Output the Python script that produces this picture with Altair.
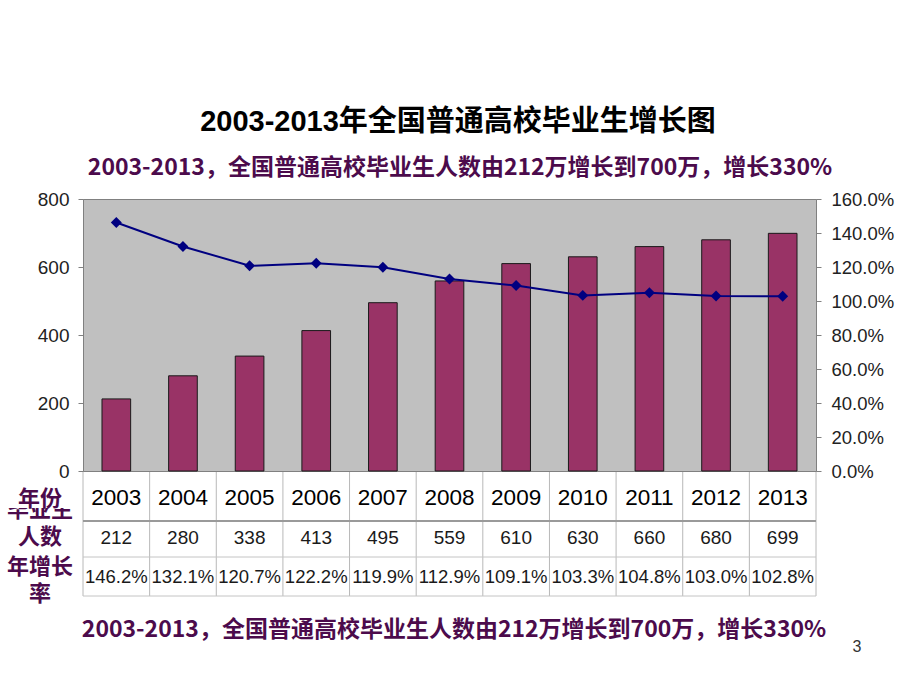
import altair as alt
import pandas as pd

# ---------------- data ----------------
years = ["2003", "2004", "2005", "2006", "2007", "2008", "2009", "2010", "2011", "2012", "2013"]
graduates = [212, 280, 338, 413, 495, 559, 610, 630, 660, 680, 699]
growth = [146.2, 132.1, 120.7, 122.2, 119.9, 112.9, 109.1, 103.3, 104.8, 103.0, 102.8]
left_ticks = [0, 200, 400, 600, 800]
right_ticks = [0, 20, 40, 60, 80, 100, 120, 140, 160]

TITLE = "2003-2013年全国普通高校毕业生增长图"
SUBTITLE = "2003-2013，全国普通高校毕业生人数由212万增长到700万，增长330%"
FOOTER = "2003-2013，全国普通高校毕业生人数由212万增长到700万，增长330%"
ROW_YEAR = "年份"
ROW_HIDDEN = "毕业生"
ROW_COUNT = "人数"
ROW_RATE_1 = "年增长"
ROW_RATE_2 = "率"
PAGE_NO = "3"

df = pd.DataFrame({
    "year": years,
    "grads": graduates,
    "rate": growth,
    "grad_txt": [str(v) for v in graduates],
    "rate_txt": [f"{v:.1f}%" for v in growth],
})

# ---------------- style ----------------
SANS = "Liberation Sans, Arial, sans-serif"
CJK = "Noto Sans CJK SC"
PURPLE = "#4c0b4c"
W, H = 733, 272
LEFT, TOP = 83, 199


def py(page_y):
    return page_y - TOP


def px(page_x):
    return page_x - LEFT


x_enc = alt.X("year:O", scale=alt.Scale(paddingInner=0, paddingOuter=0), axis=None)

bars = alt.Chart(df).mark_bar(
    width=alt.RelativeBandSize(0.43), color="#993366", stroke="#1a1a1a", strokeWidth=1
).encode(
    x=x_enc,
    y=alt.Y(
        "grads:Q",
        scale=alt.Scale(domain=[0, 800], nice=False),
        axis=alt.Axis(
            orient="left", values=left_ticks, title=None, grid=False,
            labelFont=SANS, labelFontSize=19, labelColor="#222222",
            tickColor="#808080", tickSize=5, domainColor="#808080",
            labelPadding=9,
        ),
    ),
)

rate_y = alt.Y(
    "rate:Q",
    scale=alt.Scale(domain=[0, 160], nice=False),
    axis=alt.Axis(
        orient="right", values=right_ticks, title=None, grid=False,
        labelExpr="format(datum.value, '.1f') + '%'",
        labelFont=SANS, labelFontSize=18.5, labelColor="#222222",
        tickColor="#808080", tickSize=5, domainColor="#808080",
        labelPadding=10,
    ),
)

line = alt.Chart(df).mark_line(color="#000080", strokeWidth=2).encode(x=x_enc, y=rate_y)
points = alt.Chart(df).mark_point(
    shape="diamond", filled=True, size=120, color="#000080", opacity=1
).encode(x=x_enc, y=rate_y)
rate_layer = alt.layer(line, points)

main = alt.layer(bars, rate_layer).resolve_scale(y="independent")

# ---------------- table ----------------
T_TOP, T_R1, T_R2, T_BOT = py(472), py(521), py(557), py(596)

vlines = alt.Chart(df).mark_rule(color="#b8b8b8", strokeWidth=1).encode(
    x=alt.X("year:O", bandPosition=0, scale=alt.Scale(paddingInner=0, paddingOuter=0), axis=None),
    y=alt.value(T_TOP), y2=alt.value(T_BOT),
)
one = pd.DataFrame({"k": [0]})
vline_end = alt.Chart(one).mark_rule(color="#b8b8b8", strokeWidth=1).encode(
    x=alt.value(W), y=alt.value(T_TOP), y2=alt.value(T_BOT)
)
hline_r1 = alt.Chart(one).mark_rule(color="#9a9a9a", strokeWidth=2).encode(
    x=alt.value(0), x2=alt.value(W), y=alt.value(T_R1)
)
hline_r2 = alt.Chart(one).mark_rule(color="#c4c4c4", strokeWidth=1).encode(
    x=alt.value(0), x2=alt.value(W), y=alt.value(T_R2)
)
hline_bot = alt.Chart(one).mark_rule(color="#c4c4c4", strokeWidth=1).encode(
    x=alt.value(0), x2=alt.value(W), y=alt.value(T_BOT)
)

year_txt = alt.Chart(df).mark_text(
    font=SANS, fontSize=22.5, color="#000000", baseline="middle"
).encode(x=x_enc, y=alt.value(py(498)), text="year:N")
grad_txt = alt.Chart(df).mark_text(
    font=SANS, fontSize=19, color="#1a1a1a", baseline="middle"
).encode(x=x_enc, y=alt.value(py(538)), text="grad_txt:N")
rate_txt = alt.Chart(df).mark_text(
    font=SANS, fontSize=18.5, color="#1a1a1a", baseline="middle"
).encode(x=x_enc, y=alt.value(py(577)), text="rate_txt:N")


def label(text, page_x, page_y, size, color="#000000", weight="normal", font=CJK, align="center"):
    return alt.Chart(pd.DataFrame({"t": [text]})).mark_text(
        font=font, fontSize=size, color=color, fontWeight=weight,
        align=align, baseline="middle",
    ).encode(x=alt.value(px(page_x)), y=alt.value(py(page_y)), text="t:N")


hidden_lbl = label(ROW_HIDDEN, 40, 510, 22, PURPLE, "bold")
cover = alt.Chart(one).mark_rect(color="white").encode(
    x=alt.value(px(2)), x2=alt.value(px(79)), y=alt.value(py(484)), y2=alt.value(py(508))
)
year_lbl = label(ROW_YEAR, 40, 499, 22, PURPLE, "bold")
count_lbl = label(ROW_COUNT, 40, 537, 22, PURPLE, "bold")
rate_lbl1 = label(ROW_RATE_1, 40, 567, 22, PURPLE, "bold")
rate_lbl2 = label(ROW_RATE_2, 40, 594, 22, PURPLE, "bold")

title = label(TITLE, 458, 122, 29, "#000000", "bold", "Liberation Sans, Noto Sans CJK SC")
subtitle = label(SUBTITLE, 460, 168, 23, PURPLE, "bold")
footer = label(FOOTER, 454, 630, 23, PURPLE, "bold")
page = label(PAGE_NO, 857, 647, 16, "#333333", "normal", SANS)

chart = alt.layer(
    main,
    vlines, vline_end, hline_r1, hline_r2, hline_bot,
    year_txt, grad_txt, rate_txt,
    hidden_lbl, cover, year_lbl, count_lbl, rate_lbl1, rate_lbl2,
    title, subtitle, footer, page,
).properties(
    width=W, height=H,
    autosize=alt.AutoSizeParams(type="none"),
    padding={"left": LEFT, "top": TOP, "right": 920 - LEFT - W, "bottom": 690 - TOP - H},
    background="white",
).configure_view(
    fill="#C0C0C0", stroke="#808080", strokeWidth=1
)

chart.save("out.html", embed_options={"renderer": "svg", "actions": False})
